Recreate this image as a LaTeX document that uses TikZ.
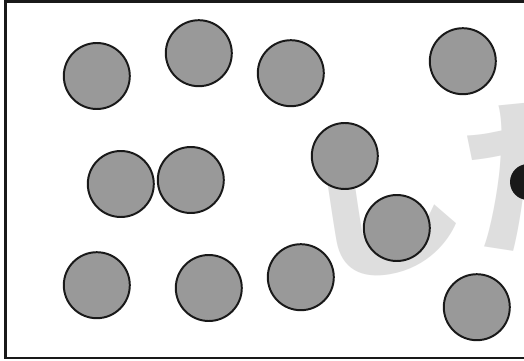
\documentclass[tikz,border=0pt]{standalone}
\usepackage{fontspec}
\newfontfamily\jpfont{Noto Sans CJK JP}
\tikzset{
  ball/.style = {circle, fill = black!40, draw = black!90, line width = 1.4pt, minimum size = 1.65cm, inner sep = 0pt},
  dark/.style = {circle, fill = black!90, minimum size = 0.9cm, inner sep = 0pt},
  mark text/.style = {text = black!13, font = \jpfont\bfseries\fontsize{118}{118}\selectfont}
}
\begin{document}
\begin{tikzpicture}
\useasboundingbox (0,0) rectangle (13.1,9);
\clip (0,0) rectangle (13.1,9);
\fill[white] (0,0) rectangle (13.1,9);

\node[mark text, rotate = 10] (wm) at (11.55,4.32) {した};

\node[ball] (b1) at (2.42,7.1) {};
\node[ball] (b2) at (4.97,7.67) {};
\node[ball] (b3) at (7.27,7.17) {};
\node[ball] (b4) at (11.57,7.47) {};
\node[ball] (b5) at (8.62,5.1) {};
\node[ball] (b6) at (3.02,4.4) {};
\node[ball] (b7) at (4.77,4.5) {};
\node[ball] (b8) at (9.92,3.3) {};
\node[ball] (b9) at (2.42,1.87) {};
\node[ball] (b10) at (5.22,1.8) {};
\node[ball] (b11) at (7.52,2.07) {};
\node[ball] (b12) at (11.92,1.32) {};
\node[dark] (d1) at (13.2,4.45) {};

\draw[black!90, line width = 2pt] (13.5,8.97) -- (0.13,8.97) -- (0.13,0.05) -- (13.5,0.05);
\end{tikzpicture}
\end{document}
